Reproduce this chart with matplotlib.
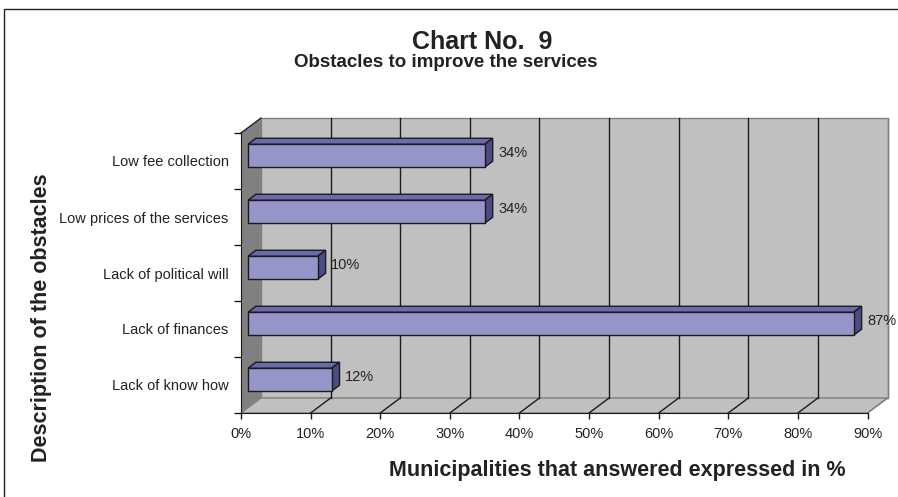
import matplotlib.pyplot as plt
from matplotlib.patches import Polygon, Rectangle

plt.rcParams['font.family'] = ['Liberation Sans', 'DejaVu Sans']

# obstacles listed bottom to top
obstacles = ["Lack of know how", "Lack of finances", "Lack of political will",
             "Low prices of the services", "Low fee collection"]
shares = [12, 87, 10, 34, 34]
x_ticks = [0, 10, 20, 30, 40, 50, 60, 70, 80, 90]
x_tick_labels = ["0%", "10%", "20%", "30%", "40%", "50%", "60%", "70%", "80%", "90%"]

W, H = 898, 497
fig = plt.figure(figsize=(W / 100, H / 100), dpi=100)

# front plane of the 3d box, in pixels
left, right, bottom, top = 241, 867.5, 413, 133
ax = fig.add_axes([left / W, 1 - bottom / H, (right - left) / W, (bottom - top) / H])
xmax = 90
ncat = len(obstacles)
ax.set_xlim(0, xmax)
ax.set_ylim(0, ncat)

# depth of the box in data units (20 px right, 15 px up)
DX = 20 / ((right - left) / xmax)
DY = 15 / ((bottom - top) / ncat)

wall = '#c0c0c0'
side = '#808080'
edge = '#808080'

# back wall, side wall and floor
ax.add_patch(Polygon([(DX, DY), (xmax + DX, DY), (xmax + DX, ncat + DY), (DX, ncat + DY)],
                     closed=True, fc=wall, ec=edge, lw=1, zorder=1, clip_on=False))
ax.add_patch(Polygon([(0, 0), (DX, DY), (DX, ncat + DY), (0, ncat)],
                     closed=True, fc=side, ec='none', zorder=1, clip_on=False))
ax.plot([0, DX], [ncat, ncat + DY], color='#222222', lw=1, zorder=2, clip_on=False)
ax.add_patch(Polygon([(0, 0), (xmax, 0), (xmax + DX, DY), (DX, DY)],
                     closed=True, fc=wall, ec=edge, lw=1, zorder=1, clip_on=False))

# gridlines on back wall and floor
for t in x_ticks[1:]:
    c = '#1a1a1a' if t < xmax else edge
    ax.plot([t + DX, t + DX], [DY, ncat + DY], color=c, lw=1, zorder=2, clip_on=False)
    ax.plot([t, t + DX], [0, DY], color=c, lw=1, zorder=2, clip_on=False)

# 3d bars
f0, f1 = 0.35, 0.75
bh = 0.41
bx, by = f0 * DX, f0 * DY
ddx, ddy = (f1 - f0) * DX, (f1 - f0) * DY
front_c, top_c, side_c = '#9595c9', '#6a6aad', '#4b4b85'
for i, (name, v) in enumerate(zip(obstacles, shares)):
    x0, x1 = bx, v + bx
    y0, y1 = i + 0.5 - bh / 2 + by, i + 0.5 + bh / 2 + by
    ax.add_patch(Polygon([(x0, y1), (x1, y1), (x1 + ddx, y1 + ddy), (x0 + ddx, y1 + ddy)],
                         closed=True, fc=top_c, ec='#1a1a1a', lw=1, zorder=3, clip_on=False))
    ax.add_patch(Polygon([(x1, y0), (x1 + ddx, y0 + ddy), (x1 + ddx, y1 + ddy), (x1, y1)],
                         closed=True, fc=side_c, ec='#1a1a1a', lw=1, zorder=3, clip_on=False))
    ax.add_patch(Rectangle((x0, y0), v, y1 - y0, fc=front_c, ec='#1a1a1a', lw=1,
                           zorder=4, clip_on=False))
    ax.text(x1 + ddx + 0.8, (y0 + y1) / 2 + 0.05, f"{v}%", fontsize=10.5, color='#222222',
            ha='left', va='center', zorder=5, clip_on=False)

# front axes
for s in ['top', 'right']:
    ax.spines[s].set_visible(False)
ax.spines['left'].set_zorder(2.5)
ax.spines['bottom'].set_zorder(2.5)
ax.spines['left'].set_color('#1a1a1a')
ax.spines['bottom'].set_color('#1a1a1a')
ax.patch.set_visible(False)

ax.set_xticks(x_ticks)
ax.set_xticklabels(x_tick_labels, fontsize=10.5, color='#222222')
ax.tick_params(axis='x', direction='out', length=4, width=1, color='#1a1a1a', pad=6)

ax.set_yticks(range(ncat + 1))
ax.set_yticklabels([])
ax.tick_params(axis='y', which='major', direction='out', length=5, width=1, color='#1a1a1a')
ax.set_yticks([i + 0.5 for i in range(ncat)], minor=True)
ax.set_yticklabels(obstacles, minor=True, fontsize=10.5, color='#222222')
ax.tick_params(axis='y', which='minor', length=0, pad=9)

# titles
fig.text(482 / W, 1 - 49 / H, "Chart No.  9", fontsize=18, fontweight='bold',
         color='#222222', ha='center', va='baseline')
fig.text(446 / W, 1 - 67 / H, "Obstacles to improve the services", fontsize=13.5,
         fontweight='bold', color='#222222', ha='center', va='baseline')
fig.text(389 / W, 1 - 476 / H, "Municipalities that answered expressed in %", fontsize=15.5,
         fontweight='bold', color='#222222', ha='left', va='baseline')
fig.text(42 / W, 1 - 318 / H, "Description of the obstacles", fontsize=15.5,
         fontweight='bold', color='#222222', ha='center', va='center', rotation=90)

# outer frame
fig.add_artist(Rectangle((4 / W, -0.1), 1.2, 1 - 9 / H + 0.1, transform=fig.transFigure,
                         fill=False, ec='#222222', lw=1))

fig.savefig('out.png', dpi=100)
